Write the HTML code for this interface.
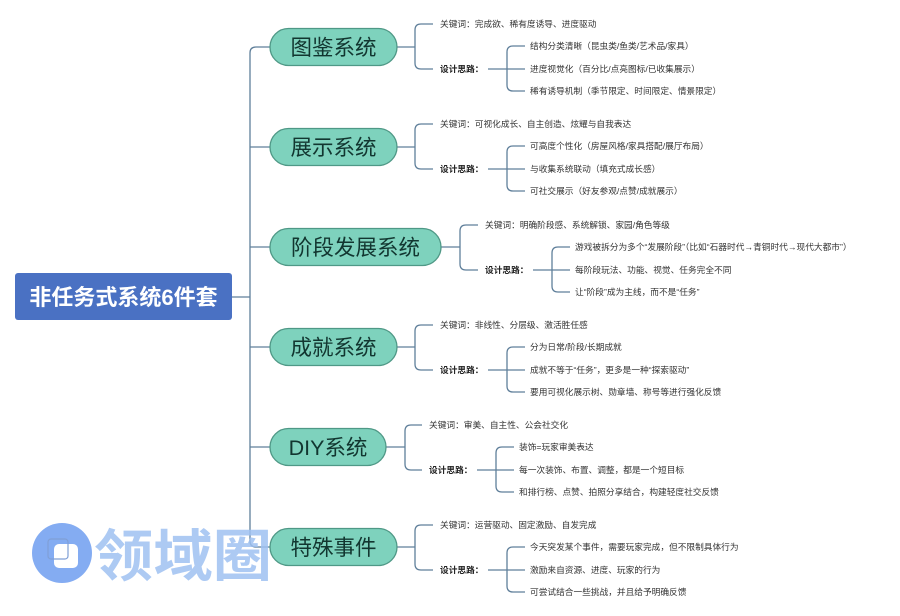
<!DOCTYPE html>
<html><head><meta charset="utf-8"><style>
html,body{margin:0;padding:0;background:#fff;width:900px;height:616px;overflow:hidden}
svg{display:block}
text{font-family:"Liberation Sans","Noto Sans CJK SC",sans-serif}
.l{font-size:8.7px;fill:#333}
.b{font-size:8.7px;fill:#222;font-weight:bold}
.p{font-size:21.5px;fill:#123630}
</style></head><body>
<svg width="900" height="616" viewBox="0 0 900 616" xmlns="http://www.w3.org/2000/svg">
<g fill="none" stroke="#5f7f9a" stroke-width="1.3">
<path d="M232 297 H250"/>
<path d="M270 47 H256 Q250 47 250 53 V541 Q250 547 256 547 H270"/>
<path d="M250 147 H270 M250 247 H270 M250 347 H270 M250 447 H270"/>
<path d="M397 47 H415 M433 24 H421 Q415 24 415 30 V63 Q415 69 421 69 H433 M488 69 H525 M525 46 H513 Q507 46 507 52 V85 Q507 91 513 91 H525"/>
<path d="M397 147 H415 M433 124 H421 Q415 124 415 130 V163 Q415 169 421 169 H433 M488 169 H525 M525 146 H513 Q507 146 507 152 V185 Q507 191 513 191 H525"/>
<path d="M441 247 H460 M478 225 H466 Q460 225 460 231 V264 Q460 270 466 270 H478 M533 270 H570 M570 247 H558 Q552 247 552 253 V286 Q552 292 558 292 H570"/>
<path d="M397 347 H415 M433 325 H421 Q415 325 415 331 V364 Q415 370 421 370 H433 M488 370 H525 M525 347 H513 Q507 347 507 353 V386 Q507 392 513 392 H525"/>
<path d="M386 447 H405 M422 425 H411 Q405 425 405 431 V464 Q405 470 411 470 H422 M477 470 H514 M514 447 H502 Q496 447 496 453 V486 Q496 492 502 492 H514"/>
<path d="M397 547 H415 M433 525 H421 Q415 525 415 531 V564 Q415 570 421 570 H433 M488 570 H525 M525 547 H513 Q507 547 507 553 V586 Q507 592 513 592 H525"/>
</g>
<rect x="15" y="273" width="217" height="47" rx="3" fill="#4a71c3"/>
<text x="123.5" y="305" text-anchor="middle" font-size="22" font-weight="bold" fill="#fff">非任务式系统6件套</text>
<g fill="#7ed2bd" stroke="#4f9886" stroke-width="1.3">
<rect x="270" y="28.5" width="127" height="37" rx="18.5"/>
<rect x="270" y="128.5" width="127" height="37" rx="18.5"/>
<rect x="270" y="228.5" width="171" height="37" rx="18.5"/>
<rect x="270" y="328.5" width="127" height="37" rx="18.5"/>
<rect x="270" y="428.5" width="116" height="37" rx="18.5"/>
<rect x="270" y="528.5" width="127" height="37" rx="18.5"/>
</g>
<text class="p" x="333.5" y="55" text-anchor="middle">图鉴系统</text>
<text class="p" x="333.5" y="155" text-anchor="middle">展示系统</text>
<text class="p" x="355.5" y="255" text-anchor="middle">阶段发展系统</text>
<text class="p" x="333.5" y="355" text-anchor="middle">成就系统</text>
<text class="p" x="328" y="455" text-anchor="middle">DIY系统</text>
<text class="p" x="333.5" y="555" text-anchor="middle">特殊事件</text>
<text class="l" x="440" y="27">关键词：完成欲、稀有度诱导、进度驱动</text>
<text class="b" x="440" y="72">设计思路：</text>
<text class="l" x="530" y="49">结构分类清晰（昆虫类/鱼类/艺术品/家具）</text>
<text class="l" x="530" y="72">进度视觉化（百分比/点亮图标/已收集展示）</text>
<text class="l" x="530" y="94">稀有诱导机制（季节限定、时间限定、情景限定）</text>
<text class="l" x="440" y="127">关键词：可视化成长、自主创造、炫耀与自我表达</text>
<text class="b" x="440" y="172">设计思路：</text>
<text class="l" x="530" y="149">可高度个性化（房屋风格/家具搭配/展厅布局）</text>
<text class="l" x="530" y="172">与收集系统联动（填充式成长感）</text>
<text class="l" x="530" y="194">可社交展示（好友参观/点赞/成就展示）</text>
<text class="l" x="485" y="228">关键词：明确阶段感、系统解锁、家园/角色等级</text>
<text class="b" x="485" y="273">设计思路：</text>
<text class="l" x="575" y="250">游戏被拆分为多个“发展阶段”（比如“石器时代→青铜时代→现代大都市”）</text>
<text class="l" x="575" y="273">每阶段玩法、功能、视觉、任务完全不同</text>
<text class="l" x="575" y="295">让“阶段”成为主线，而不是“任务”</text>
<text class="l" x="440" y="328">关键词：非线性、分层级、激活胜任感</text>
<text class="b" x="440" y="373">设计思路：</text>
<text class="l" x="530" y="350">分为日常/阶段/长期成就</text>
<text class="l" x="530" y="373">成就不等于“任务”，更多是一种“探索驱动”</text>
<text class="l" x="530" y="395">要用可视化展示树、勋章墙、称号等进行强化反馈</text>
<text class="l" x="429" y="428">关键词：审美、自主性、公会社交化</text>
<text class="b" x="429" y="473">设计思路：</text>
<text class="l" x="519" y="450">装饰=玩家审美表达</text>
<text class="l" x="519" y="473">每一次装饰、布置、调整，都是一个短目标</text>
<text class="l" x="519" y="495">和排行榜、点赞、拍照分享结合，构建轻度社交反馈</text>
<text class="l" x="440" y="528">关键词：运营驱动、固定激励、自发完成</text>
<text class="b" x="440" y="573">设计思路：</text>
<text class="l" x="530" y="550">今天突发某个事件，需要玩家完成，但不限制具体行为</text>
<text class="l" x="530" y="573">激励来自资源、进度、玩家的行为</text>
<text class="l" x="530" y="595">可尝试结合一些挑战，并且给予明确反馈</text>
<g opacity="0.85">
<circle cx="62" cy="553" r="30" fill="#6f9ef0"/>
<rect x="54" y="544" width="24" height="24" rx="5" fill="#fff"/>
<rect x="48" y="539" width="20" height="20" rx="3" fill="none" stroke="#6a8fd0" stroke-width="1.2"/>
<text x="94" y="576" font-size="56" font-weight="bold" fill="#9fc1f2" textLength="178" lengthAdjust="spacingAndGlyphs">领域圈</text>
</g>
</svg>
</body></html>
